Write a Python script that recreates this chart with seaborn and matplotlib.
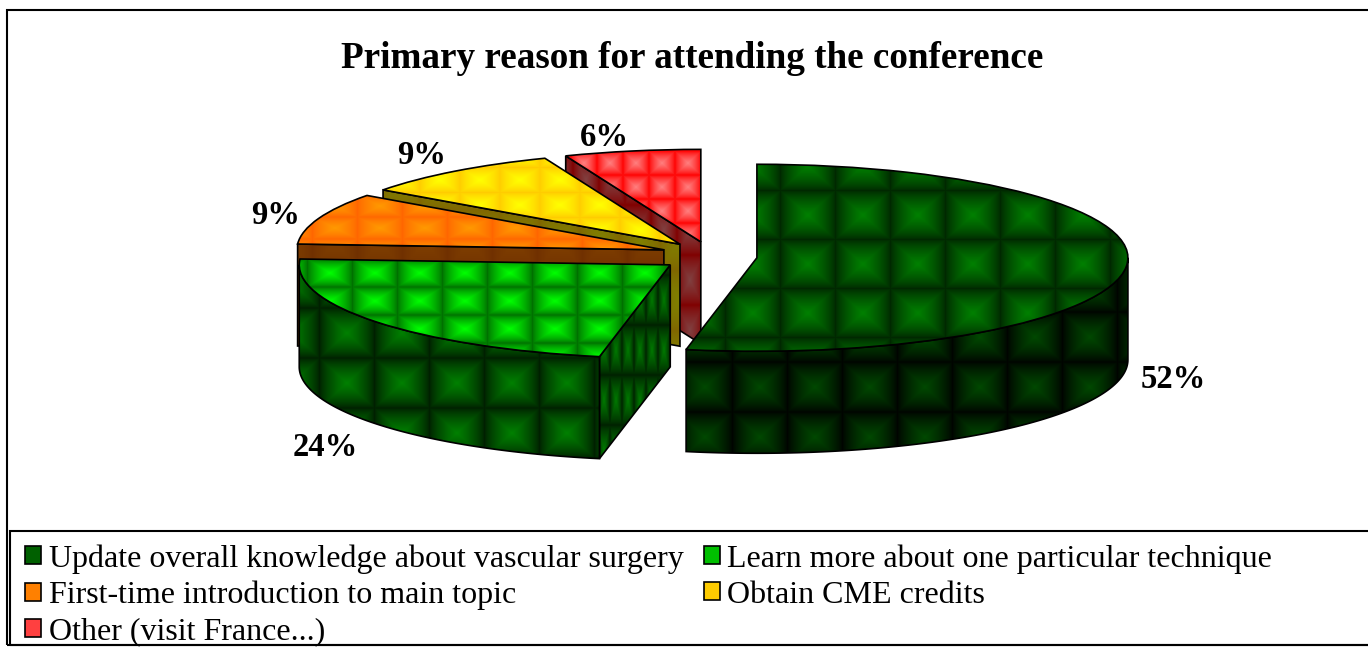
import matplotlib
matplotlib.use("Agg")
import matplotlib.pyplot as plt
import numpy as np
import seaborn as sns
from matplotlib.patches import Patch, Polygon, Rectangle

sns.set_theme(style="white")
plt.rcParams['font.family'] = ['Liberation Serif', 'DejaVu Serif']

TITLE = "Primary reason for attending the conference"
CATEGORIES = ["Update overall knowledge about vascular surgery",
              "Learn more about one particular technique",
              "First-time introduction to main topic",
              "Obtain CME credits",
              "Other (visit France...)"]
VALUES = [52, 24, 9, 9, 6]

W, H = 1368, 647
SQUASH = 0.252      # tilt of the pie, y pixels per data unit
RADIUS = 371
BACK_RADIUS = 367   # slices at the back look smaller
DEPTH = 102 / SQUASH
CENTER = (708, (H - 257) / SQUASH)
FRONT_SKEW = 3.8    # perspective of the original pulls the front cut to the left

# dark, bright, period x, period y, phase x, phase y (top face, pixels)
TOPS = [("#002800", "#008000", 55, 49, 808, 215),
        ("#007000", "#00ff00", 45, 28, 330, 273),
        ("#ff6600", "#ff9900", 45, 22, 335, 228),
        ("#ffcc00", "#ffff00", 40, 25, 440, 180),
        ("#ff0000", "#ff8080", 26, 24, 688, 163)]
OUTER = [("#000400", "#004800", 55, 50, 760, 387),
         ("#002000", "#008000", 55, 50, 347, 333)]
CUT = [None,
       ("#002000", "#007800", 12, 50, 640, 350),
       ("#703000", "#804000", 45, 60, 335, 300),
       ("#806600", "#808000", 40, 60, 440, 180),
       ("#800000", "#804040", 26, 50, 690, 280)]
LEGEND_COLORS = ["#006000", "#00c000", "#ff8000", "#ffcc00", "#ff4040"]
LABEL_POS = [(1173, 379), (325, 448), (276, 216), (422, 156), (604, 137)]


def texture(ax, clip, style, zorder):
    dark, bright, px, py, x0, y0 = style
    x, y = np.meshgrid(np.arange(W) + 0.5, np.arange(H) + 0.5)
    tx = 2 * np.abs(((x - x0) / px + 0.5) % 1 - 0.5)
    ty = 2 * np.abs(((y - y0) / py + 0.5) % 1 - 0.5)
    img = np.minimum(1 - tx, 1 - ty) ** 0.75
    cmap = sns.blend_palette([dark, bright], as_cmap=True)
    im = ax.imshow(img, cmap=cmap, vmin=0, vmax=1, aspect='auto', zorder=zorder,
                   extent=(0, W, 0, H / SQUASH), origin='upper', interpolation='bilinear')
    im.set_clip_path(clip)


def rim(wedge, theta):
    t = np.radians(theta)
    return np.column_stack([wedge.center[0] + wedge.r * np.cos(t),
                            wedge.center[1] + wedge.r * np.sin(t)])


def add_wall(ax, pts, style, zorder):
    down = pts[::-1] - [0, DEPTH]
    wall = Polygon(np.vstack([pts, down]), closed=True, facecolor='none',
                   edgecolor='black', linewidth=1.2, zorder=zorder + 0.2)
    ax.add_patch(wall)
    texture(ax, wall, style, zorder)


fig = plt.figure(figsize=(W / 100, H / 100), dpi=100)
ax = fig.add_axes([0, 0, 1, 1])
wedges, _ = ax.pie(VALUES, explode=[49] * 5, startangle=90, counterclock=False,
                   radius=RADIUS, center=CENTER, frame=True,
                   wedgeprops=dict(facecolor='none', edgecolor='black', linewidth=1.2))
wedges[0].set_theta1(wedges[0].theta1 - FRONT_SKEW)
wedges[1].set_theta2(wedges[1].theta2 - FRONT_SKEW)
for w in wedges[2:]:
    w.set_radius(BACK_RADIUS)
    w.set_center((w.center[0] + 2, w.center[1] + 3 / SQUASH))

for i, w in enumerate(wedges):
    z = 2 * (5 - i)
    # wall along the front cut of each slice
    if CUT[i] is not None:
        apex = np.array([w.center])
        edge = rim(w, np.array([w.theta2]))
        add_wall(ax, np.vstack([apex, edge]), CUT[i], z - 1.5)
    # outer wall, only the part facing the viewer
    if i < 2:
        a = max(w.theta1, -180)
        b = min(w.theta2, 0)
        add_wall(ax, rim(w, np.linspace(a, b, 120)), OUTER[i], z - 1)
    w.set_zorder(z + 0.2)
    texture(ax, w, TOPS[i], z)

ax.set_aspect('auto')
ax.set_xlim(0, W)
ax.set_ylim(0, H / SQUASH)
ax.axis('off')

for v, (x, y) in zip(VALUES, LABEL_POS):
    fig.text(x / W, 1 - y / H, f"{v}%", fontsize=23.5, fontweight='bold', color='black',
             ha='center', va='center')
fig.text(692 / W, 1 - 58 / H, TITLE, fontsize=26.7, fontweight='bold', color='black',
         ha='center', va='center')

# chart and legend frames
fig.add_artist(Rectangle((7 / W, 1 - 645 / H), 1400 / W, 635 / H, transform=fig.transFigure,
                         facecolor='none', edgecolor='black', linewidth=1.5))
fig.add_artist(Rectangle((10 / W, 1 - 645 / H), 1400 / W, 114 / H, transform=fig.transFigure,
                         facecolor='none', edgecolor='black', linewidth=1.5))

order = [0, 2, 4, 1, 3]
handles = [Patch(facecolor=LEGEND_COLORS[i], edgecolor='black', linewidth=1.2) for i in order]
fig.legend(handles, [CATEGORIES[i] for i in order], ncol=2, loc='upper left',
           bbox_to_anchor=(21.5 / W, 1 - 541 / H), bbox_transform=fig.transFigure,
           frameon=False, fontsize=23, handlelength=0.5, handleheight=0.5,
           handletextpad=0.25, columnspacing=0.63, labelspacing=0.22, borderpad=0.1,
           borderaxespad=0, labelcolor='black')

fig.savefig("out.png", dpi=100)
